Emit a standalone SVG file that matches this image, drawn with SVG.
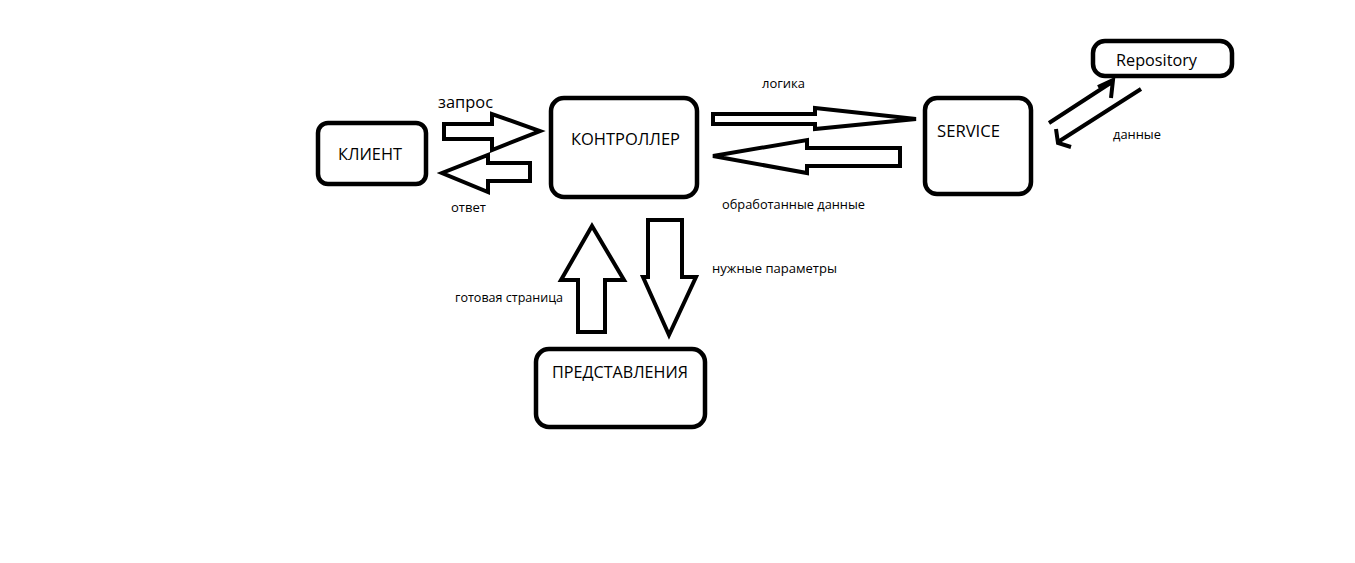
<svg xmlns="http://www.w3.org/2000/svg" width="1355" height="563" viewBox="0 0 1355 563">
<style>
.box{fill:#fff;stroke:#000;stroke-width:4.5}
.arr{fill:#fff;stroke:#000;stroke-width:4;stroke-linejoin:miter}
.ln{fill:none;stroke:#000;stroke-width:4;stroke-linecap:butt}
.big{font-family:"Open Sans","Liberation Sans",sans-serif;font-size:17px;fill:#000}
.sm{font-family:"Open Sans","Liberation Sans",sans-serif;font-size:12.5px;fill:#000}
</style>
<rect width="1355" height="563" fill="#fff"/>
<g id="connectors">
<polygon class="arr" points="444,124 492,124 492,114 540,131 492,150 492,139 444,139"/>
<polygon class="arr" points="530,163 530,181 488,181 488,192 442,173 488,155 488,163"/>
<polygon class="arr" points="713,114 815,114 815,108 916,119 815,129 815,124 713,124"/>
<polygon class="arr" points="900,148 900,166 807,166 807,173 713,156 807,140 807,148"/>
<polygon class="arr" points="578,332 578,280 561,280 592,226 624,280 605,280 605,332"/>
<polygon class="arr" points="648,220 682,220 682,277 696,277 669,335 643,277 648,277"/>
<path class="ln" d="M1049,123 L1112,82 M1098,87 L1113,80 L1111,98"/>
<path class="ln" d="M1141,89 L1058,142 M1056,129 L1058,143 L1071,147"/>
<text class="big" x="438" y="108" textLength="55" lengthAdjust="spacingAndGlyphs">запрос</text>
<text class="sm" x="451" y="212" textLength="35" lengthAdjust="spacingAndGlyphs">ответ</text>
<text class="sm" x="762" y="88" textLength="43" lengthAdjust="spacingAndGlyphs">логика</text>
<text class="sm" x="722" y="209" textLength="143" lengthAdjust="spacingAndGlyphs">обработанные данные</text>
<text class="sm" x="1113" y="139" textLength="48" lengthAdjust="spacingAndGlyphs">данные</text>
<text class="sm" x="712" y="273" textLength="125" lengthAdjust="spacingAndGlyphs">нужные параметры</text>
<text class="sm" x="455" y="302" textLength="108" lengthAdjust="spacingAndGlyphs">готовая страница</text>
</g>
<g id="client">
<rect class="box" x="318" y="123" width="108" height="61" rx="10"/>
<text class="big" x="338" y="160" textLength="64" lengthAdjust="spacingAndGlyphs">КЛИЕНТ</text>
</g>
<g id="controller">
<rect class="box" x="551" y="98" width="146" height="99" rx="13"/>
<text class="big" x="571" y="145" textLength="109" lengthAdjust="spacingAndGlyphs">КОНТРОЛЛЕР</text>
</g>
<g id="service">
<rect class="box" x="925" y="98" width="106" height="96" rx="12"/>
<text class="big" x="937" y="137" textLength="63" lengthAdjust="spacingAndGlyphs">SERVICE</text>
</g>
<g id="repository">
<rect class="box" x="1093" y="41" width="139" height="35" rx="12"/>
<text class="big" x="1116" y="66" textLength="81" lengthAdjust="spacingAndGlyphs">Repository</text>
</g>
<g id="views">
<rect class="box" x="536" y="349" width="169" height="78" rx="13"/>
<text class="big" x="552" y="378" textLength="136" lengthAdjust="spacingAndGlyphs">ПРЕДСТАВЛЕНИЯ</text>
</g>
</svg>
